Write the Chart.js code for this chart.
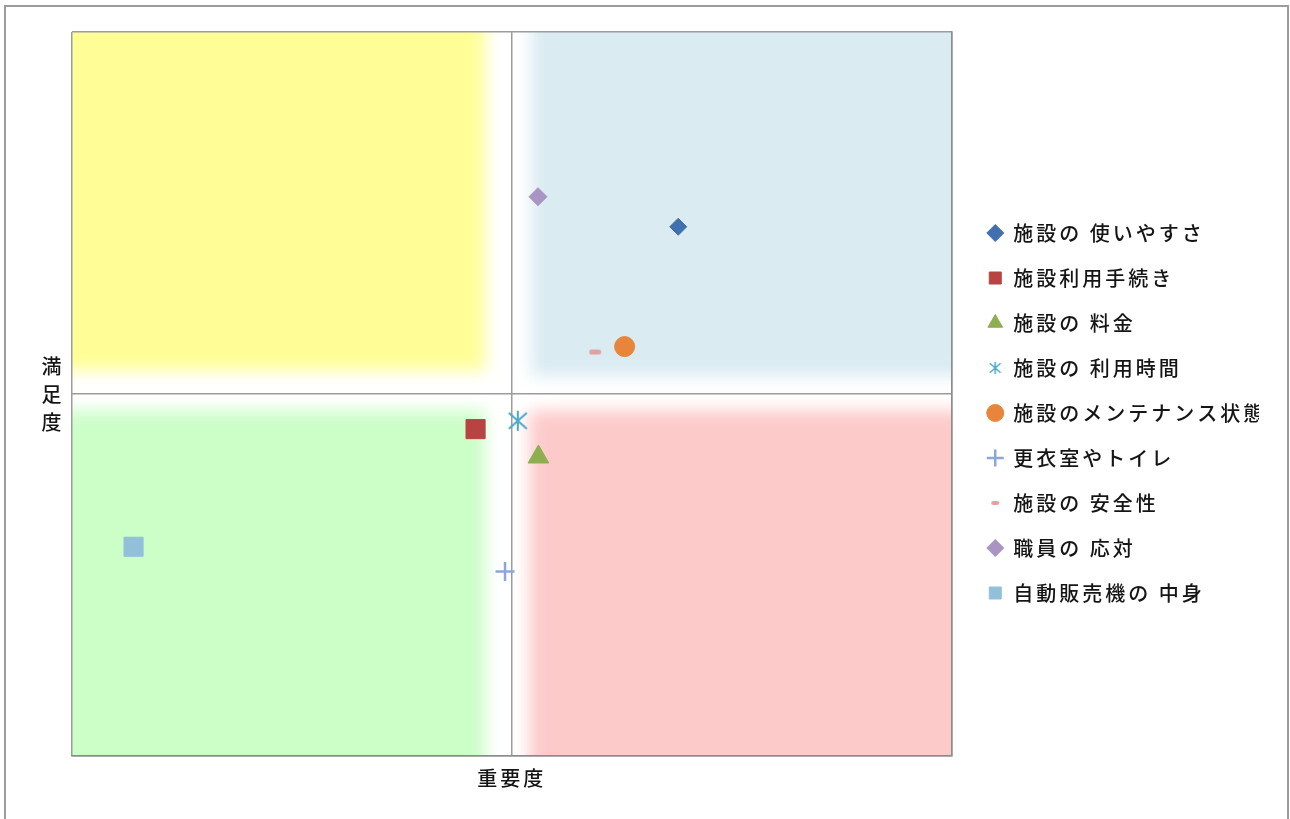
<!DOCTYPE html>
<html lang="ja">
<head>
<meta charset="utf-8">
<title>重要度・満足度</title>
<script src="https://cdn.jsdelivr.net/npm/chart.js@4.4.1/dist/chart.umd.min.js"></script>
<style>
  html, body { margin: 0; padding: 0; background: #fff; }
  #wrap { width: 1290px; height: 819px; }
</style>
</head>
<body>
<div id="wrap"><canvas id="chart"></canvas></div>
<script>
// items and their scores (centre of the plot = 0, edges = ±1)
const labels = ['施設の 使いやすさ', '施設利用手続き', '施設の 料金', '施設の 利用時間', '施設のメンテナンス状態',
                '更衣室やトイレ', '施設の 安全性', '職員の 応対', '自動販売機の 中身'];
const importance   = [0.379, -0.082, 0.061, 0.014, 0.257, -0.015, 0.190, 0.060, -0.860];
const satisfaction = [0.462, -0.097, -0.174, -0.074, 0.131, -0.490, 0.116, 0.545, -0.422];
const xTitle = '重要度';
const yTitle = ['満', '足', '度'];

const FONT = "'Noto Sans CJK JP', 'Noto Sans', sans-serif";
Chart.defaults.font.family = FONT;
const TEXT = '#151515';

// asterisk marker like Excel's "*"
function asterisk(size, color, lw) {
  const c = document.createElement('canvas');
  c.width = c.height = size;
  const g = c.getContext('2d');
  const m = size / 2, r = size / 2 - 1;
  g.strokeStyle = color;
  g.lineWidth = lw;
  g.beginPath();
  g.moveTo(m, m - r); g.lineTo(m, m + r);
  g.moveTo(m - r * 0.9, m - r * 0.8); g.lineTo(m + r * 0.9, m + r * 0.8);
  g.moveTo(m + r * 0.9, m - r * 0.8); g.lineTo(m - r * 0.9, m + r * 0.8);
  g.stroke();
  return c;
}

// short rounded dash
function dash(w, h, color) {
  const c = document.createElement('canvas');
  c.width = w + 2; c.height = h + 2;
  const g = c.getContext('2d');
  g.fillStyle = color;
  g.beginPath();
  g.roundRect(1, 1, w, h, h / 2);
  g.fill();
  return c;
}

const styles = [
  { pointStyle: 'rectRot', radius: 8.5, color: '#4170B0' },
  { pointStyle: 'rect', radius: 13.5, color: '#B84343' },
  { pointStyle: 'triangle', radius: 12, color: '#8FAE50' },
  { pointStyle: asterisk(22, '#4BA8C8', 2), radius: 10, color: '#4BA8C8' },
  { pointStyle: 'circle', radius: 10, color: '#E8853A' },
  { pointStyle: 'cross', radius: 9.5, color: '#8DA6D9', width: 2.5 },
  { pointStyle: dash(12, 5, '#E3A0A4'), radius: 6, color: '#E3A0A4' },
  { pointStyle: 'rectRot', radius: 9, color: '#A994C3' },
  { pointStyle: 'rect', radius: 13.5, color: '#93C0D9' }
];
const legendMarks = { 3: asterisk(14, '#4BA8C8', 1.5), 6: dash(8, 4, '#E3A0A4') };

const datasets = labels.map((name, i) => ({
  label: name,
  data: [{ x: importance[i], y: satisfaction[i] }],
  pointStyle: styles[i].pointStyle,
  pointRadius: styles[i].radius,
  pointHoverRadius: styles[i].radius,
  backgroundColor: styles[i].color,
  borderColor: styles[i].color,
  borderWidth: styles[i].width || 1
}));

const quadrants = [
  { x0: -1.3, x1: -0.06, y0: 0.065, y1: 1.3, color: '#FFFE96' },
  { x0: 0.045, x1: 1.3, y0: 0.05, y1: 1.3, color: '#DAEBF2' },
  { x0: -1.3, x1: -0.06, y0: -1.3, y1: -0.045, color: '#CCFEC8' },
  { x0: 0.04, x1: 1.3, y0: -1.3, y1: -0.045, color: '#FDCACA' }
];

const spacing = '3px';

const deco = {
  id: 'deco',
  beforeUpdate(chart) { chart.ctx.letterSpacing = spacing; },
  beforeLayout(chart) { chart.ctx.letterSpacing = spacing; },
  beforeDraw(chart) {
    const { ctx, chartArea: a, scales: { x, y } } = chart;
    ctx.save();
    ctx.strokeStyle = '#9c9c9c';
    ctx.lineWidth = 2;
    ctx.strokeRect(5, 6, 1283, 900);
    ctx.beginPath();
    ctx.rect(a.left, a.top, a.right - a.left, a.bottom - a.top);
    ctx.clip();
    ctx.filter = 'blur(8px)';
    quadrants.forEach(q => {
      const l = x.getPixelForValue(q.x0), r = x.getPixelForValue(q.x1);
      const t = y.getPixelForValue(q.y1), b = y.getPixelForValue(q.y0);
      ctx.fillStyle = q.color;
      ctx.fillRect(l, t, r - l, b - t);
    });
    ctx.restore();
    ctx.letterSpacing = spacing;
  },
  afterDraw(chart) {
    const { ctx, chartArea: a, scales: { y } } = chart;
    const cy = y.getPixelForValue(0);
    ctx.save();
    ctx.fillStyle = TEXT;
    ctx.font = '500 20px ' + FONT;
    ctx.textAlign = 'center';
    ctx.textBaseline = 'middle';
    yTitle.forEach((ch, i) => ctx.fillText(ch, a.left - 19, cy + (i - 1) * 28));
    ctx.restore();
  }
};

new Chart(document.getElementById('chart'), {
  type: 'scatter',
  data: { datasets },
  plugins: [deco],
  options: {
    responsive: true,
    maintainAspectRatio: false,
    animation: false,
    layout: { padding: { left: 72, top: 32, right: 31, bottom: 25 } },
    scales: {
      x: {
        type: 'linear', min: -1, max: 1,
        ticks: { display: false, stepSize: 1 },
        grid: { color: '#9c9c9c', lineWidth: 1.5, drawTicks: false },
        border: { display: true, color: '#8c8c8c', width: 1.5 },
        title: {
          display: true, text: xTitle, color: TEXT,
          font: { size: 20, weight: '500' }, padding: { top: 10, bottom: 4 }
        }
      },
      y: {
        type: 'linear', position: 'right', min: -1, max: 1,
        ticks: { display: false, stepSize: 1 },
        grid: { color: '#9c9c9c', lineWidth: 1.5, drawTicks: false },
        border: { display: true, color: '#8c8c8c', width: 1.5 },
        afterFit(scale) { scale.width = 11; }
      }
    },
    plugins: {
      tooltip: { enabled: false },
      legend: {
        position: 'right',
        labels: {
          usePointStyle: true,
          boxWidth: 16,
          boxHeight: 12,
          padding: 25,
          color: TEXT,
          font: { size: 20, weight: '500' },
          generateLabels(chart) {
            const items = Chart.defaults.plugins.legend.labels.generateLabels(chart);
            items.forEach((it, i) => { if (legendMarks[i]) it.pointStyle = legendMarks[i]; });
            return items;
          }
        }
      }
    }
  }
});
</script>
</body>
</html>
